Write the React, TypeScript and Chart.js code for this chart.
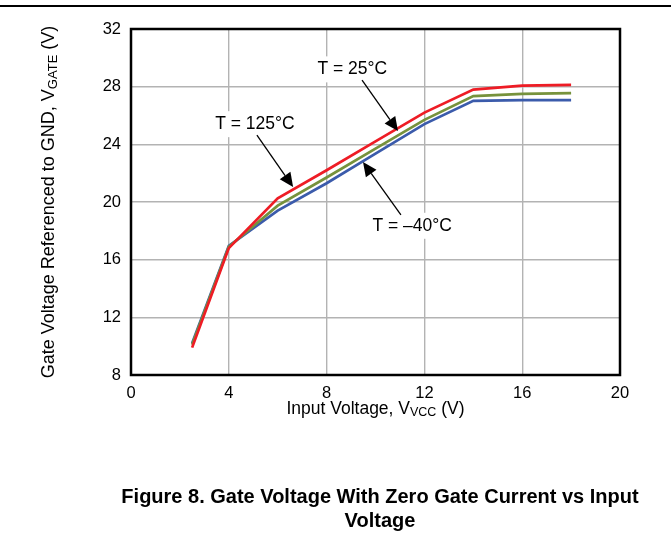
import React, { useEffect, useRef } from "react";
import { Chart, registerables } from "chart.js";

Chart.register(...registerables);

// ---- data ----
const vcc = [2.5, 4, 6, 8, 10, 12, 14, 16, 18];
const gate125C = [9.9, 16.8, 20.25, 22.2, 24.2, 26.2, 27.8, 28.07, 28.12];
const gate25C = [10.1, 16.9, 19.75, 21.7, 23.7, 25.7, 27.35, 27.5, 27.55];
const gateMinus40C = [10.2, 16.95, 19.4, 21.3, 23.35, 25.4, 27.02, 27.07, 27.07];

const xTicks = [0, 4, 8, 12, 16, 20];
const yTicks = [8, 12, 16, 20, 24, 28, 32];

const seriesLabels = ["T = 125°C", "T = 25°C", "T = –40°C"];
const seriesColors = ["#ee1c25", "#76923c", "#3b5bab"];

// annotation label position and arrow (in data units)
const annotationTexts = ["T = 25°C", "T = 125°C", "T = –40°C"];
const annotationAt = [
  [9.05, 29.2],
  [5.07, 25.4],
  [11.5, 18.35],
];
const arrowFrom = [
  [9.45, 28.45],
  [5.15, 24.64],
  [11.04, 19.1],
];
const arrowTo = [
  [10.92, 24.92],
  [6.63, 21.04],
  [9.49, 22.77],
];

const xTitleMain = "Input Voltage, V";
const xTitleSub = "VCC";
const xTitleEnd = " (V)";
const yTitleMain = "Gate Voltage Referenced to GND, V";
const yTitleSub = "GATE";
const yTitleEnd = " (V)";
const captionLines = [
  "Figure 8. Gate Voltage With Zero Gate Current vs Input",
  "Voltage",
];

const FONT = "'Liberation Sans', Arial, Helvetica, sans-serif";

function drawSubText(
  ctx: CanvasRenderingContext2D,
  cx: number,
  cy: number,
  main: string,
  sub: string,
  end: string,
  size: number,
  subSize: number,
  subShift: number
) {
  ctx.font = `${size}px ${FONT}`;
  const w1 = ctx.measureText(main).width;
  const w3 = ctx.measureText(end).width;
  ctx.font = `${subSize}px ${FONT}`;
  const w2 = ctx.measureText(sub).width;
  const total = w1 + w2 + w3;
  let x = cx - total / 2;
  ctx.textAlign = "left";
  ctx.textBaseline = "middle";
  ctx.fillStyle = "#000";
  ctx.font = `${size}px ${FONT}`;
  ctx.fillText(main, x, cy);
  x += w1;
  ctx.font = `${subSize}px ${FONT}`;
  ctx.fillText(sub, x, cy + subShift);
  x += w2;
  ctx.font = `${size}px ${FONT}`;
  ctx.fillText(end, x, cy);
}

export default function App() {
  const ref = useRef<HTMLCanvasElement | null>(null);

  useEffect(() => {
    const canvas = ref.current;
    if (!canvas) return;

    const overlay = {
      id: "overlay",
      afterDatasetsDraw(chart: any) {
        const { ctx, chartArea: a } = chart;
        const xs = chart.scales.x;
        const ys = chart.scales.y;
        ctx.save();
        // plot border
        ctx.strokeStyle = "#000";
        ctx.lineWidth = 2.5;
        ctx.strokeRect(a.left, a.top, a.right - a.left, a.bottom - a.top);

        // annotations
        for (let i = 0; i < annotationTexts.length; i++) {
          const tx = xs.getPixelForValue(annotationAt[i][0]);
          const ty = ys.getPixelForValue(annotationAt[i][1]);
          ctx.font = `17.5px ${FONT}`;
          const w = ctx.measureText(annotationTexts[i]).width;
          ctx.fillStyle = "#fff";
          ctx.fillRect(tx - w / 2 - 3, ty - 13, w + 6, 26);

          const x1 = xs.getPixelForValue(arrowFrom[i][0]);
          const y1 = ys.getPixelForValue(arrowFrom[i][1]);
          const x2 = xs.getPixelForValue(arrowTo[i][0]);
          const y2 = ys.getPixelForValue(arrowTo[i][1]);
          const ang = Math.atan2(y2 - y1, x2 - x1);
          const headLen = 14;
          const headHalf = 6.5;
          const bx = x2 - headLen * Math.cos(ang);
          const by = y2 - headLen * Math.sin(ang);
          ctx.strokeStyle = "#000";
          ctx.lineWidth = 1.3;
          ctx.beginPath();
          ctx.moveTo(x1, y1);
          ctx.lineTo(bx, by);
          ctx.stroke();
          ctx.fillStyle = "#000";
          ctx.beginPath();
          ctx.moveTo(x2, y2);
          ctx.lineTo(bx + headHalf * Math.sin(ang), by - headHalf * Math.cos(ang));
          ctx.lineTo(bx - headHalf * Math.sin(ang), by + headHalf * Math.cos(ang));
          ctx.closePath();
          ctx.fill();

          ctx.fillStyle = "#000";
          ctx.textAlign = "center";
          ctx.textBaseline = "middle";
          ctx.font = `17.5px ${FONT}`;
          ctx.fillText(annotationTexts[i], tx, ty);
        }
        ctx.restore();
      },
      afterDraw(chart: any) {
        const { ctx, chartArea: a, width } = chart;
        ctx.save();
        // top rule
        ctx.strokeStyle = "#000";
        ctx.lineWidth = 2;
        ctx.beginPath();
        ctx.moveTo(0, 6);
        ctx.lineTo(width, 6);
        ctx.stroke();

        // x title
        drawSubText(ctx, (a.left + a.right) / 2, 409, xTitleMain, xTitleSub, xTitleEnd, 17.5, 12.5, 4);

        // y title
        ctx.save();
        ctx.translate(49, (a.top + a.bottom) / 2);
        ctx.rotate(-Math.PI / 2);
        drawSubText(ctx, 0, 0, yTitleMain, yTitleSub, yTitleEnd, 18, 13, 4);
        ctx.restore();

        // caption
        ctx.fillStyle = "#000";
        ctx.textAlign = "center";
        ctx.textBaseline = "middle";
        ctx.font = `bold 20px ${FONT}`;
        ctx.fillText(captionLines[0], 380, 497);
        ctx.fillText(captionLines[1], 380, 521);
        ctx.restore();
      },
    };

    const series = [gate125C, gate25C, gateMinus40C];

    const chart = new Chart(canvas, {
      type: "line",
      data: {
        labels: vcc,
        datasets: series.map((vals, i) => ({
          label: seriesLabels[i],
          data: vals.map((v, j) => ({ x: vcc[j], y: v })),
          borderColor: seriesColors[i],
          backgroundColor: seriesColors[i],
          borderWidth: 2.7,
          pointRadius: 0,
          tension: 0,
          fill: false,
        })),
      },
      options: {
        responsive: false,
        animation: false,
        devicePixelRatio: 1,
        layout: { padding: { left: 0, top: 29, right: 51, bottom: 0 } },
        plugins: {
          legend: { display: false },
          tooltip: { enabled: false },
          title: { display: false },
        },
        scales: {
          x: {
            type: "linear",
            min: xTicks[0],
            max: xTicks[xTicks.length - 1],
            afterBuildTicks: (s: any) => {
              s.ticks = xTicks.map((v) => ({ value: v }));
            },
            afterFit: (s: any) => {
              s.height = 164;
            },
            ticks: {
              color: "#000",
              font: { family: FONT, size: 16.5 },
              padding: 9,
              maxRotation: 0,
            },
            grid: { color: "#b3b3b3", lineWidth: 1.4, drawTicks: false },
            border: { display: false },
          },
          y: {
            type: "linear",
            min: yTicks[0],
            max: yTicks[yTicks.length - 1],
            afterBuildTicks: (s: any) => {
              s.ticks = yTicks.map((v) => ({ value: v }));
            },
            afterFit: (s: any) => {
              s.width = 131;
            },
            ticks: {
              color: "#000",
              font: { family: FONT, size: 16.5 },
              padding: 10,
            },
            grid: { color: "#b3b3b3", lineWidth: 1.4, drawTicks: false },
            border: { display: false },
          },
        },
      },
      plugins: [overlay],
    });

    return () => chart.destroy();
  }, []);

  return (
    <div style={{ position: "absolute", left: 0, top: 0, width: 671, height: 539, background: "#fff" }}>
      <canvas ref={ref} width={671} height={539} style={{ display: "block", width: 671, height: 539 }} />
    </div>
  );
}
